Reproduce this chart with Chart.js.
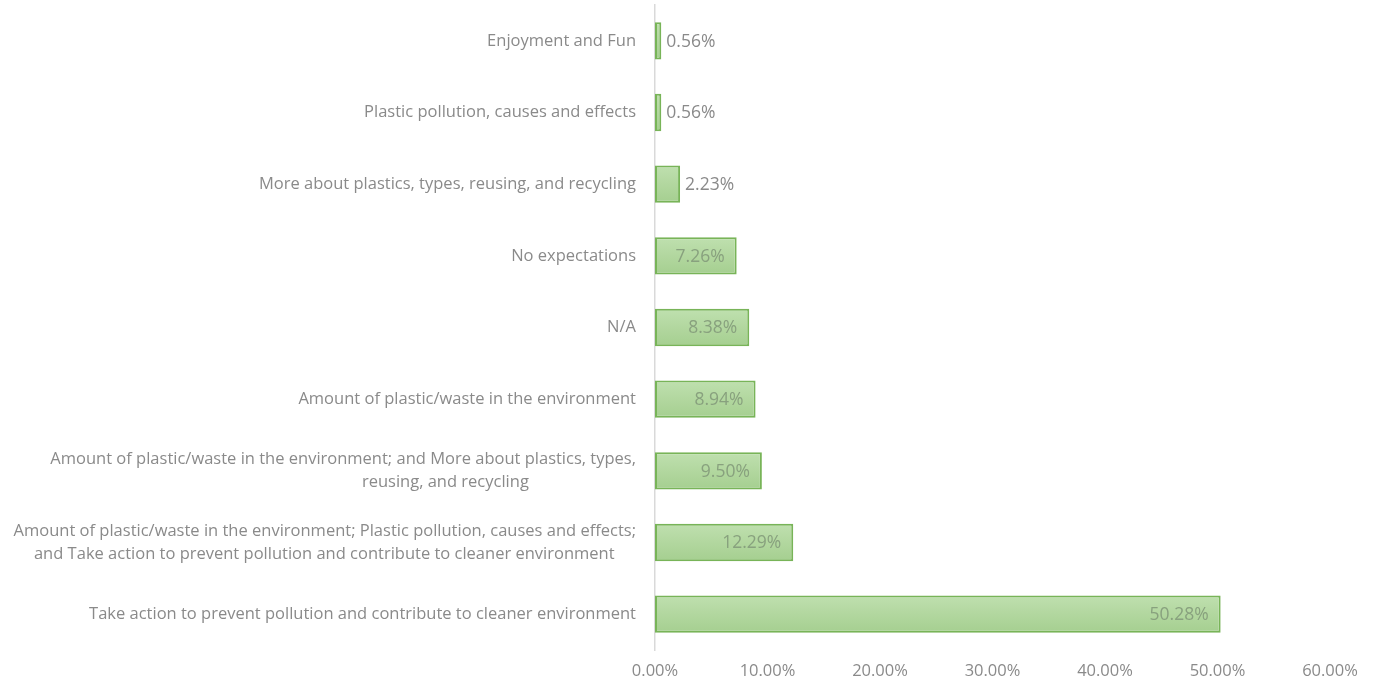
<!DOCTYPE html>
<html>
<head>
<meta charset="utf-8">
<script src="https://cdn.jsdelivr.net/npm/chart.js@4"></script>
<style>
  body { margin: 0; background: #fff; }
  #wrap { width: 1374px; height: 683px; }
</style>
</head>
<body>
<div id="wrap"><canvas id="expectChart" width="1374" height="683"></canvas></div>
<script>
// survey answers, top to bottom (trailing spaces keep the wrapped lines centred)
const categories = [
  ["Enjoyment and Fun"],
  ["Plastic pollution, causes and effects"],
  ["More about plastics, types, reusing, and recycling"],
  ["No expectations"],
  ["N/A"],
  ["Amount of plastic/waste in the environment"],
  ["Amount of plastic/waste in the environment; and More about plastics, types,",
   "reusing, and recycling" + " ".repeat(25)],
  ["Amount of plastic/waste in the environment; Plastic pollution, causes and effects;",
   "and Take action to prevent pollution and contribute to cleaner environment" + " ".repeat(5)],
  ["Take action to prevent pollution and contribute to cleaner environment"],
];
const shares = [0.56, 0.56, 2.23, 7.26, 8.38, 8.94, 9.50, 12.29, 50.28];
const xTicks = [0, 10, 20, 30, 40, 50, 60];

const FONT = "'Open Sans', sans-serif";
const GREY = "#8a8a8a";
const BAR_PCT = 0.52;

// vertical gradient for each bar, like the office fill
function barFill(ctx) {
  const chart = ctx.chart;
  const ys = chart.scales && chart.scales.y;
  if (!ys || !chart.chartArea || ctx.dataIndex == null) return "#b3d8a0";
  const mid = ys.getPixelForValue(ctx.dataIndex);
  const h = (chart.chartArea.height / categories.length) * BAR_PCT;
  const top = mid - h / 2;
  const g = chart.ctx.createLinearGradient(0, top, 0, top + h);
  g.addColorStop(0, "#bfe0af");
  g.addColorStop(0.5, "#b2d79f");
  g.addColorStop(1, "#a5cf90");
  return g;
}

// percent labels: small bars get them outside, others inside the end
const valueLabels = {
  id: "valueLabels",
  afterDatasetsDraw(chart) {
    const { ctx } = chart;
    const meta = chart.getDatasetMeta(0);
    ctx.save();
    ctx.font = "17.5px " + FONT;
    ctx.textBaseline = "middle";
    meta.data.forEach((bar, i) => {
      const v = shares[i];
      const txt = v.toFixed(2) + "%";
      if (v < 5) {
        ctx.fillStyle = GREY;
        ctx.textAlign = "left";
        ctx.fillText(txt, bar.x + 5, bar.y + 1);
      } else {
        ctx.fillStyle = "#88a17e";
        ctx.textAlign = "right";
        ctx.fillText(txt, bar.x - 12, bar.y + 1);
      }
    });
    ctx.restore();
  }
};

new Chart(document.getElementById("expectChart"), {
  type: "bar",
  data: {
    labels: categories,
    datasets: [{
      data: shares,
      backgroundColor: barFill,
      borderColor: "#78b458",
      borderWidth: 2,
      borderSkipped: false,
      categoryPercentage: 1,
      barPercentage: BAR_PCT,
    }],
  },
  options: {
    indexAxis: "y",
    responsive: false,
    animation: false,
    layout: { padding: { top: 5, right: 44, bottom: 0, left: 0 } },
    plugins: {
      legend: { display: false },
      tooltip: { enabled: false },
    },
    scales: {
      x: {
        min: 0,
        max: 60,
        afterBuildTicks(scale) {
          scale.ticks = xTicks.map((v) => ({ value: v }));
        },
        afterFit(scale) {
          scale.height = 33;
          scale.paddingLeft = 0;
          scale.paddingRight = 0;
        },
        grid: { display: false, drawTicks: false },
        border: { display: false },
        ticks: {
          color: GREY,
          padding: 11,
          font: { family: FONT, size: 16.5 },
          callback: (v) => Number(v).toFixed(2) + "%",
        },
      },
      y: {
        afterFit(scale) {
          scale.width = 655;
          scale.paddingTop = 0;
          scale.paddingBottom = 0;
        },
        grid: { display: false, drawTicks: false },
        border: { display: true, color: "#d9d9d9", width: 1.5 },
        ticks: {
          color: GREY,
          padding: 19,
          font: { family: FONT, size: 16.5, lineHeight: 1.4 },
        },
      },
    },
  },
  plugins: [valueLabels],
});
</script>
</body>
</html>
